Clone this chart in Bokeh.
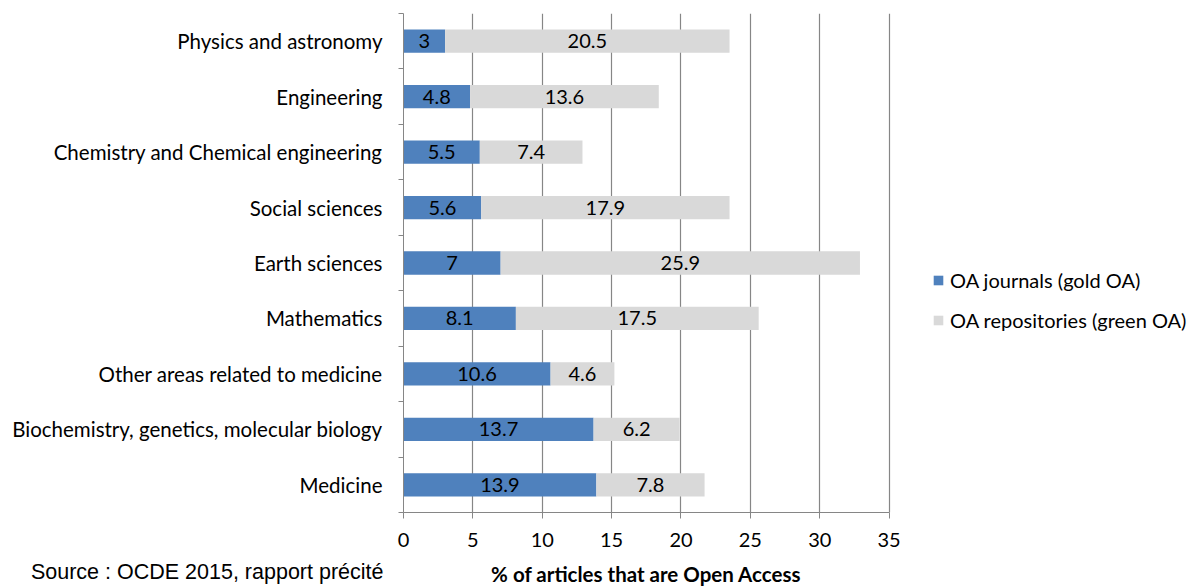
from bokeh.plotting import figure
from bokeh.layouts import column
from bokeh.models import (Range1d, FixedTicker, Legend, LegendItem, Label,
                          ColumnDataSource, LabelSet)
from bokeh.core.properties import value
from bokeh.embed import file_html
from bokeh.resources import INLINE

categories = ["Physics and astronomy", "Engineering",
              "Chemistry and Chemical engineering", "Social sciences",
              "Earth sciences", "Mathematics",
              "Other areas related to medicine",
              "Biochemistry, genetics, molecular biology", "Medicine"]
gold_oa = [3, 4.8, 5.5, 5.6, 7, 8.1, 10.6, 13.7, 13.9]
green_oa = [20.5, 13.6, 7.4, 17.9, 25.9, 17.5, 4.6, 6.2, 7.8]
x_ticks = [0, 5, 10, 15, 20, 25, 30, 35]
series_names = ["OA journals (gold OA)", "OA repositories (green OA)"]
source_text = "Source : OCDE 2015, rapport précité"
x_title = "% of articles that are Open Access"

FONT = "Lato"
BLUE = "#4F81BD"
GREY = "#D9D9D9"
AXIS = "#868686"

# layout (pixels)
W = 1200
LEFT, TOP, BOTTOM = 403, 13, 44
FRAME_H = 499
PX_PER_UNIT = 485.6 / 35.0
MAIN_H = TOP + FRAME_H + BOTTOM
FOOT_H = 31

n = len(categories)
ypos = [i + 0.5 for i in range(n)]
totals = [g + r for g, r in zip(gold_oa, green_oa)]
src = ColumnDataSource(dict(
    y=ypos, gold=gold_oa, total=totals,
    gold_mid=[g / 2 for g in gold_oa],
    green_mid=[g + r / 2 for g, r in zip(gold_oa, green_oa)],
    gold_txt=[f"{v:g}" for v in gold_oa],
    green_txt=[f"{v:g}" for v in green_oa],
))

x_end = (W - LEFT) / PX_PER_UNIT
xr = Range1d(0, x_end)
p = figure(width=W, height=MAIN_H, x_range=xr,
           y_range=Range1d(n, 0), output_backend="svg",
           toolbar_location=None, min_border_left=LEFT, min_border_top=TOP,
           min_border_right=0, min_border_bottom=BOTTOM)
p.outline_line_color = None

r1 = p.hbar(y="y", left=0, right="gold", height=0.42, source=src,
            fill_color=BLUE, line_color=None)
r2 = p.hbar(y="y", left="gold", right="total", height=0.42, source=src,
            fill_color=GREY, line_color=None)

for col, xcol in (("gold_txt", "gold_mid"), ("green_txt", "green_mid")):
    p.add_layout(LabelSet(x=xcol, y="y", text=col, source=src,
                          text_align="center", text_baseline="middle",
                          text_font=value(FONT), text_font_size="20px",
                          text_color="black"))

# x axis
p.xaxis.ticker = FixedTicker(ticks=x_ticks, minor_ticks=[])
p.xaxis.bounds = (x_ticks[0], x_ticks[-1])
p.xaxis.axis_line_color = AXIS
p.xaxis.major_tick_line_color = AXIS
p.xaxis.major_tick_out = 6
p.xaxis.major_tick_in = 0
p.xaxis.major_label_text_font = FONT
p.xaxis.major_label_text_font_size = "20px"
p.xaxis.major_label_text_color = "black"
p.xaxis.major_label_standoff = 14

p.xgrid.ticker = FixedTicker(ticks=x_ticks[1:])
p.xgrid.grid_line_color = AXIS
p.xgrid.grid_line_width = 1.2
p.ygrid.grid_line_color = None

# y axis: labels at centres, ticks at boundaries
p.yaxis.ticker = FixedTicker(ticks=ypos, minor_ticks=list(range(n + 1)))
p.yaxis.major_label_overrides = {y: c for y, c in zip(ypos, categories)}
p.yaxis.major_tick_line_color = None
p.yaxis.major_tick_out = 0
p.yaxis.major_tick_in = 0
p.yaxis.minor_tick_line_color = AXIS
p.yaxis.minor_tick_out = 5
p.yaxis.minor_tick_in = 0
p.yaxis.axis_line_color = AXIS
p.yaxis.major_label_text_font = FONT
p.yaxis.major_label_text_font_size = "20.5px"
p.yaxis.major_label_text_color = "black"
p.yaxis.major_label_standoff = 16

legend = Legend(items=[LegendItem(label=series_names[0], renderers=[r1]),
                       LegendItem(label=series_names[1], renderers=[r2])],
                location=(529, 180), orientation="vertical",
                glyph_width=12, glyph_height=12, label_height=24,
                spacing=16, padding=0, margin=0, border_line_color=None,
                label_text_font=FONT, label_text_font_size="20px",
                label_text_color="black", label_standoff=6,
                background_fill_alpha=0)
p.add_layout(legend, "center")

# footer: source note (left) and axis title (under the axis), one line
f = figure(width=W, height=FOOT_H, x_range=xr,
           y_range=Range1d(FOOT_H, 0), x_axis_type=None,
           output_backend="svg", toolbar_location=None, min_border=0,
           min_border_left=LEFT)
f.outline_line_color = None
f.grid.visible = False
SRC_Y = 15
f.yaxis.ticker = FixedTicker(ticks=[SRC_Y], minor_ticks=[])
f.yaxis.major_label_overrides = {SRC_Y: source_text}
f.yaxis.axis_line_color = None
f.yaxis.major_tick_line_color = None
f.yaxis.minor_tick_line_color = None
f.yaxis.major_tick_out = 0
f.yaxis.major_label_standoff = 20
f.yaxis.major_label_text_font = "Liberation Sans"
f.yaxis.major_label_text_font_size = "21.5px"
f.yaxis.major_label_text_color = "black"
f.add_layout(Label(x=(x_ticks[0] + x_ticks[-1]) / 2, y=17, text=x_title,
                   text_font=FONT, text_font_size="20.5px",
                   text_font_style="bold", text_baseline="alphabetic",
                   text_align="center", text_color="black"))

layout = column(p, f, spacing=0)
open("out.html", "w").write(file_html(layout, INLINE))
